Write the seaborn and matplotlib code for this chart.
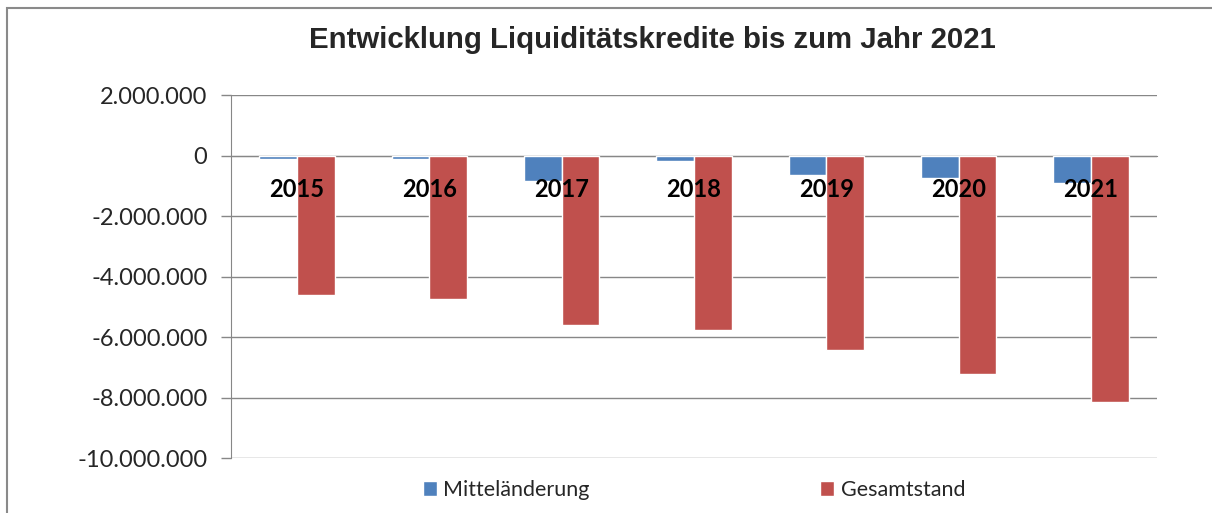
import pandas as pd
import seaborn as sns
import matplotlib.pyplot as plt
from matplotlib.patches import Rectangle
from matplotlib.ticker import FuncFormatter, FixedLocator

# Werte (EUR)
jahre = ["2015", "2016", "2017", "2018", "2019", "2020", "2021"]
mittelaenderung = [-100000, -100000, -850000, -170000, -660000, -760000, -900000]
gesamtstand = [-4600000, -4750000, -5600000, -5760000, -6420000, -7230000, -8140000]
serien = ["Mitteländerung", "Gesamtstand"]
farben = ["#4F81BD", "#C0504D"]
y_ticks = [2000000, 0, -2000000, -4000000, -6000000, -8000000, -10000000]

df = pd.DataFrame({
    "Jahr": jahre * 2,
    "Serie": [serien[0]] * len(jahre) + [serien[1]] * len(jahre),
    "Wert": mittelaenderung + gesamtstand,
})

sns.set_style("white")
plt.rcParams["font.family"] = ["Lato", "DejaVu Sans"]

fig = plt.figure(figsize=(12.12, 5.13), dpi=100)
ax = fig.add_axes([0.1906, 0.1072, 0.7640, 0.7076])

sns.barplot(data=df, x="Jahr", y="Wert", hue="Serie", order=jahre,
            hue_order=serien, palette=farben, width=0.57, gap=0,
            saturation=1, errorbar=None, ax=ax, zorder=3)

grau = "#878787"
ax.set_ylim(-10000000, 2000000)
ax.set_xlim(-0.5, len(jahre) - 0.5)
ax.yaxis.set_major_locator(FixedLocator(y_ticks))
ax.yaxis.set_major_formatter(FuncFormatter(lambda v, p: f"{int(v):,}".replace(",", ".")))
ax.grid(axis="y", color=grau, linewidth=1.0)
ax.set_axisbelow(True)
ax.tick_params(axis="y", direction="out", length=7, width=1.0, color=grau,
               labelsize=17, pad=10, left=True)

# x-Achse auf der Nulllinie, Striche zwischen den Kategorien
ax.spines["bottom"].set_position(("data", 0))
ax.spines["bottom"].set_color(grau)
ax.spines["left"].set_color(grau)
for s in ["top", "right"]:
    ax.spines[s].set_visible(False)
ax.set_xticks(range(len(jahre)))
ax.set_xticklabels([])
ax.tick_params(axis="x", which="major", length=0)
ax.set_xticks([i - 0.5 for i in range(len(jahre) + 1)], minor=True)
ax.tick_params(axis="x", which="minor", direction="out", length=4, width=1.0, color=grau)
ax.set_xlabel("")
ax.set_ylabel("")

for i, j in enumerate(jahre):
    ax.text(i, -1130000, j, ha="center", va="center", fontsize=17,
            fontweight="bold", color="black", zorder=5)

handles, labels = ax.get_legend_handles_labels()
ax.legend(handles, labels, loc="center", bbox_to_anchor=(0.5726, 0.045),
          bbox_transform=fig.transFigure, ncol=2, frameon=False, fontsize=15.5,
          handlelength=0.65, handleheight=0.65, handletextpad=0.3, columnspacing=10.7)

fig.text(0.5385, 0.922, "Entwicklung Liquiditätskredite bis zum Jahr 2021",
         ha="center", va="center", fontsize=21.2, fontweight="bold",
         family=["Liberation Sans", "DejaVu Sans"])

fig.patches.append(Rectangle((0.006, -0.1), 1.1, 1.084, transform=fig.transFigure,
                             fill=False, edgecolor="#8a8a8a", linewidth=1.5))

fig.savefig("out.png", dpi=100)
